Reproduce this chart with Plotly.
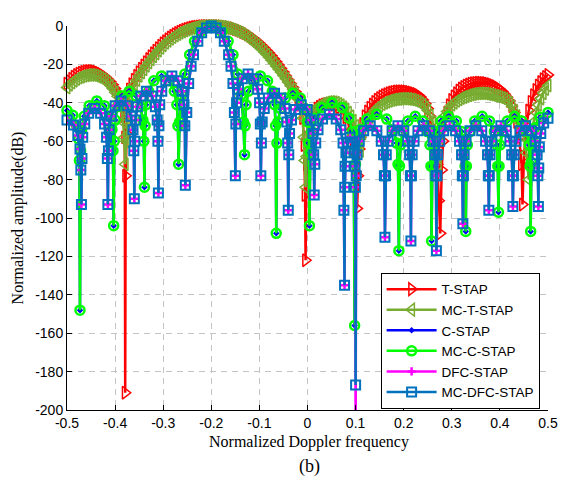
import plotly.graph_objects as go

# ---------------- data ----------------
x_ticks = [-0.5, -0.4, -0.3, -0.2, -0.1, 0, 0.1, 0.2, 0.3, 0.4, 0.5]
x_tick_labels = ["-0.5", "-0.4", "-0.3", "-0.2", "-0.1", "0", "0.1", "0.2", "0.3", "0.4", "0.5"]
y_ticks = [0, -20, -40, -60, -80, -100, -120, -140, -160, -180, -200]
y_tick_labels = ["0", "-20", "-40", "-60", "-80", "-100", "-120", "-140", "-160", "-180", "-200"]

series_names = ["T-STAP", "MC-T-STAP", "C-STAP", "MC-C-STAP", "DFC-STAP", "MC-DFC-STAP"]

t_stap = [
    (-0.5, -30), (-0.495, -28.7), (-0.49, -27.5), (-0.485, -26.4), (-0.48, -25.5), (-0.475, -24.8),
    (-0.47, -24.3), (-0.465, -23.9), (-0.46, -23.6), (-0.455, -23.4), (-0.45, -23.4), (-0.445, -23.5),
    (-0.44, -23.8), (-0.435, -24.3), (-0.43, -25), (-0.425, -25.7), (-0.42, -26.6), (-0.415, -27.7),
    (-0.41, -29), (-0.405, -30.6), (-0.40, -32.5), (-0.395, -34.6), (-0.39, -37), (-0.385, -41),
    (-0.382, -47), (-0.38, -58), (-0.379, -191), (-0.378, -78), (-0.376, -56), (-0.373, -40),
    (-0.37, -33), (-0.365, -30.3), (-0.36, -28), (-0.355, -25.9), (-0.35, -24), (-0.345, -22.2),
    (-0.34, -20.5), (-0.335, -18.8), (-0.33, -17.2), (-0.325, -15.7), (-0.32, -14.2), (-0.315, -12.8),
    (-0.31, -11.5), (-0.305, -10.2), (-0.30, -9), (-0.295, -7.9), (-0.29, -6.9), (-0.285, -6),
    (-0.28, -5.1), (-0.275, -4.3), (-0.27, -3.6), (-0.265, -3), (-0.26, -2.4), (-0.255, -1.9),
    (-0.25, -1.5), (-0.245, -1.1), (-0.24, -0.8), (-0.235, -0.55), (-0.23, -0.35), (-0.225, -0.2),
    (-0.22, -0.1), (-0.215, -0.03), (-0.21, 0), (-0.205, 0), (-0.20, 0), (-0.195, 0),
    (-0.19, 0), (-0.185, -0.05), (-0.18, -0.15), (-0.175, -0.3), (-0.17, -0.45), (-0.165, -0.65),
    (-0.16, -0.9), (-0.155, -1.2), (-0.15, -1.6), (-0.145, -2), (-0.14, -2.5), (-0.135, -3.1),
    (-0.13, -3.7), (-0.125, -4.4), (-0.12, -5.2), (-0.115, -6.1), (-0.11, -7), (-0.105, -8),
    (-0.10, -9), (-0.095, -10.2), (-0.09, -11.4), (-0.085, -12.7), (-0.08, -14), (-0.075, -15.5),
    (-0.07, -17), (-0.065, -18.6), (-0.06, -20.3), (-0.055, -22.1), (-0.05, -24), (-0.045, -26),
    (-0.04, -28), (-0.035, -30), (-0.03, -32), (-0.025, -34.3), (-0.02, -37), (-0.015, -41),
    (-0.01, -48), (-0.007, -62), (-0.005, -88), (-0.004, -122), (-0.002, -72), (0.0, -58),
    (0.005, -51), (0.01, -46.5), (0.015, -44.5), (0.02, -43), (0.025, -42), (0.03, -41.3),
    (0.035, -40.9), (0.04, -40.6), (0.045, -40.5), (0.05, -40.6), (0.055, -41), (0.06, -41.5),
    (0.065, -42.4), (0.07, -43.5), (0.075, -45.3), (0.08, -47.5), (0.085, -51), (0.09, -56),
    (0.095, -64), (0.10, -76), (0.103, -95), (0.105, -78), (0.108, -64), (0.11, -58),
    (0.115, -51), (0.12, -47), (0.125, -44.5), (0.13, -42.5), (0.135, -40.9), (0.14, -39.5),
    (0.145, -38.4), (0.15, -37.5), (0.155, -36.7), (0.16, -36), (0.165, -35.5), (0.17, -35),
    (0.175, -34.6), (0.18, -34.3), (0.185, -34.1), (0.19, -34), (0.195, -34), (0.20, -34),
    (0.205, -34.1), (0.21, -34.3), (0.215, -34.6), (0.22, -35), (0.225, -35.4), (0.23, -36),
    (0.235, -37), (0.24, -38.5), (0.245, -40.5), (0.25, -43), (0.255, -47), (0.26, -53),
    (0.265, -61), (0.27, -72), (0.273, -91), (0.276, -108), (0.279, -75), (0.282, -60),
    (0.285, -53), (0.29, -45), (0.295, -41.3), (0.30, -38.5), (0.305, -36.6), (0.31, -35),
    (0.315, -33.6), (0.32, -32.5), (0.325, -31.7), (0.33, -31), (0.335, -30.5), (0.34, -30),
    (0.345, -29.8), (0.35, -29.6), (0.355, -29.5), (0.36, -29.5), (0.365, -29.6), (0.37, -29.7),
    (0.375, -30), (0.38, -30.3), (0.385, -30.8), (0.39, -31.3), (0.395, -32.1), (0.40, -33),
    (0.405, -34.1), (0.41, -35.5), (0.415, -37.1), (0.42, -39), (0.425, -41.7), (0.43, -45),
    (0.435, -50), (0.44, -58), (0.445, -72), (0.447, -93), (0.45, -68), (0.455, -52),
    (0.46, -44), (0.465, -39.5), (0.47, -36), (0.475, -33.3), (0.48, -31), (0.485, -29.2),
    (0.49, -27.7), (0.495, -26.5), (0.5, -25.5),
]

mc_t_stap = [
    (-0.5, -32), (-0.495, -30.6), (-0.49, -29.5), (-0.485, -28.5), (-0.48, -27.6), (-0.475, -26.9),
    (-0.47, -26.4), (-0.465, -26), (-0.46, -25.7), (-0.455, -25.5), (-0.45, -25.5), (-0.445, -25.6),
    (-0.44, -25.9), (-0.435, -26.4), (-0.43, -27), (-0.425, -27.7), (-0.42, -28.6), (-0.415, -29.7),
    (-0.41, -31), (-0.405, -32.6), (-0.40, -34.5), (-0.395, -36.6), (-0.39, -39), (-0.386, -43),
    (-0.383, -50), (-0.381, -58), (-0.379, -72), (-0.377, -60), (-0.375, -50), (-0.373, -43),
    (-0.37, -36), (-0.365, -33.1), (-0.36, -30.5), (-0.355, -28.2), (-0.35, -26), (-0.345, -24.2),
    (-0.34, -22.5), (-0.335, -20.7), (-0.33, -19), (-0.325, -17.4), (-0.32, -15.8), (-0.315, -14.3),
    (-0.31, -12.8), (-0.305, -11.4), (-0.30, -10), (-0.295, -8.8), (-0.29, -7.7), (-0.285, -6.7),
    (-0.28, -5.8), (-0.275, -5), (-0.27, -4.2), (-0.265, -3.5), (-0.26, -2.9), (-0.255, -2.4),
    (-0.25, -1.9), (-0.245, -1.5), (-0.24, -1.1), (-0.235, -0.8), (-0.23, -0.5), (-0.225, -0.3),
    (-0.22, -0.15), (-0.215, -0.05), (-0.21, 0), (-0.205, 0), (-0.20, 0), (-0.195, -0.03),
    (-0.19, -0.1), (-0.185, -0.2), (-0.18, -0.35), (-0.175, -0.55), (-0.17, -0.8), (-0.165, -1.1),
    (-0.16, -1.5), (-0.155, -1.9), (-0.15, -2.4), (-0.145, -2.9), (-0.14, -3.5), (-0.135, -4.2),
    (-0.13, -5), (-0.125, -5.9), (-0.12, -6.8), (-0.115, -7.8), (-0.11, -8.8), (-0.105, -9.9),
    (-0.10, -11), (-0.095, -12.2), (-0.09, -13.5), (-0.085, -14.9), (-0.08, -16.3), (-0.075, -17.8),
    (-0.07, -19.3), (-0.065, -20.9), (-0.06, -22.5), (-0.055, -24.1), (-0.05, -25.8), (-0.045, -27.5),
    (-0.04, -29.3), (-0.035, -31.1), (-0.03, -33), (-0.025, -35.3), (-0.02, -38), (-0.015, -42),
    (-0.01, -48), (-0.008, -58), (-0.006, -70), (-0.004, -84), (-0.002, -68), (0.0, -58),
    (0.005, -50), (0.01, -46), (0.015, -44), (0.02, -42.5), (0.025, -41.5), (0.03, -40.7),
    (0.035, -40.2), (0.04, -39.8), (0.045, -39.6), (0.05, -39.5), (0.055, -39.7), (0.06, -40),
    (0.065, -40.6), (0.07, -41.3), (0.075, -42.3), (0.08, -43.5), (0.085, -45.1), (0.09, -47),
    (0.095, -49.3), (0.10, -52), (0.105, -58), (0.11, -65), (0.115, -56), (0.12, -51),
    (0.125, -49.1), (0.13, -47.5), (0.135, -45.7), (0.14, -44), (0.145, -42.7), (0.15, -41.5),
    (0.155, -40.7), (0.16, -40), (0.165, -39.5), (0.17, -39), (0.175, -38.6), (0.18, -38.3),
    (0.185, -38.1), (0.19, -38), (0.195, -37.9), (0.20, -37.8), (0.205, -37.9), (0.21, -38),
    (0.215, -38.2), (0.22, -38.5), (0.225, -39), (0.23, -39.5), (0.235, -40.2), (0.24, -41),
    (0.245, -42.3), (0.25, -44), (0.255, -46.6), (0.26, -50), (0.265, -58), (0.27, -68),
    (0.272, -72), (0.275, -58), (0.28, -50), (0.285, -46.9), (0.29, -44.5), (0.295, -42.6),
    (0.30, -41), (0.305, -40), (0.31, -39), (0.315, -38.2), (0.32, -37.5), (0.325, -37),
    (0.33, -36.5), (0.335, -36.1), (0.34, -35.7), (0.345, -35.4), (0.35, -35.2), (0.355, -35.1),
    (0.36, -35), (0.365, -35.1), (0.37, -35.2), (0.375, -35.4), (0.38, -35.7), (0.385, -36),
    (0.39, -36.3), (0.395, -36.6), (0.40, -37), (0.405, -37.5), (0.41, -38), (0.415, -38.9),
    (0.42, -40), (0.425, -41.8), (0.43, -44), (0.435, -46.8), (0.44, -50), (0.445, -53.7),
    (0.45, -58), (0.455, -66), (0.46, -80), (0.465, -64), (0.47, -50), (0.475, -45),
    (0.48, -41), (0.485, -37.8), (0.49, -35), (0.495, -32.8), (0.5, -31),
]

mc_c_stap = [
    (-0.5, -44), (-0.488, -46.5), (-0.48, -52), (-0.4757, -59), (-0.4741, -70), (-0.473, -148),
    (-0.4716, -65), (-0.4695, -54), (-0.4643, -47), (-0.4538, -41.5), (-0.438, -39), (-0.4222, -41.5),
    (-0.4117, -47), (-0.4065, -54), (-0.4044, -65), (-0.403, -104),
    (-0.4017, -60), (-0.3998, -49), (-0.395, -42), (-0.3854, -36.5), (-0.371, -34), (-0.3566, -36.5),
    (-0.347, -42), (-0.3422, -49), (-0.3403, -60), (-0.339, -84),
    (-0.3376, -52), (-0.3355, -41), (-0.3301, -34), (-0.3195, -28.5), (-0.3035, -26), (-0.2875, -28.5),
    (-0.2769, -34), (-0.2715, -41), (-0.2694, -52), (-0.268, -72),
    (-0.266, -50), (-0.262, -36), (-0.255, -25), (-0.245, -15), (-0.235, -8), (-0.222, -3),
    (-0.21, -0.8), (-0.2, 0), (-0.19, -0.8), (-0.178, -3), (-0.165, -8), (-0.155, -15),
    (-0.145, -25), (-0.138, -36), (-0.133, -50), (-0.131, -67),
    (-0.1297, -52), (-0.1277, -41), (-0.1228, -34), (-0.1129, -28.5), (-0.098, -26), (-0.0831, -28.5),
    (-0.0732, -34), (-0.0683, -41), (-0.0663, -52), (-0.065, -108),
    (-0.0636, -61), (-0.0615, -50), (-0.0564, -43), (-0.046, -37.5), (-0.0305, -35), (-0.015, -37.5),
    (-0.0046, -43), (0.0005, -50), (0.0026, -61), (0.004, -104),
    (0.0059, -66), (0.0087, -55), (0.0157, -48), (0.0298, -42.5), (0.051, -40), (0.0722, -42.5),
    (0.0863, -48), (0.0933, -55), (0.0961, -66), (0.098, -156),
    (0.0998, -72), (0.1026, -61), (0.1095, -54), (0.1233, -48.5), (0.144, -46), (0.1647, -48.5),
    (0.1785, -54), (0.1854, -61), (0.1882, -72), (0.19, -117),
    (0.1914, -73), (0.1934, -62), (0.1985, -55), (0.2087, -49.5), (0.224, -47), (0.2393, -49.5),
    (0.2495, -55), (0.2546, -62), (0.2566, -73), (0.258, -112),
    (0.2594, -73), (0.2615, -62), (0.2669, -55), (0.2775, -49.5), (0.2935, -47), (0.3095, -49.5),
    (0.3201, -55), (0.3255, -62), (0.3276, -73), (0.329, -107),
    (0.3304, -73), (0.3324, -62), (0.3375, -55), (0.3477, -49.5), (0.363, -47), (0.3783, -49.5),
    (0.3885, -55), (0.3936, -62), (0.3956, -73), (0.397, -97),
    (0.3983, -73), (0.4003, -62), (0.4054, -55), (0.4154, -49.5), (0.4305, -47), (0.4456, -49.5),
    (0.4556, -55), (0.4607, -62), (0.4627, -73), (0.464, -107),
    (0.4654, -71), (0.4676, -60), (0.473, -53), (0.4838, -47.5), (0.5, -45),
]
c_stap = list(mc_c_stap)

mc_dfc_stap = [
    (-0.5, -49), (-0.4865, -51.5), (-0.4775, -57), (-0.473, -64), (-0.4712, -75), (-0.47, -93),
    (-0.4689, -69), (-0.4673, -58), (-0.4631, -51), (-0.4549, -45.5), (-0.4425, -43), (-0.4301, -45.5),
    (-0.4219, -51), (-0.4177, -58), (-0.4161, -69), (-0.415, -93),
    (-0.4139, -65), (-0.4123, -54), (-0.4081, -47), (-0.3999, -41.5), (-0.3875, -39), (-0.3751, -41.5),
    (-0.3669, -47), (-0.3627, -54), (-0.3611, -65), (-0.36, -90),
    (-0.359, -60), (-0.3575, -49), (-0.3538, -42), (-0.3463, -36.5), (-0.335, -34), (-0.3237, -36.5),
    (-0.3162, -42), (-0.3125, -49), (-0.311, -60), (-0.31, -87),
    (-0.3089, -52), (-0.3072, -41), (-0.303, -34), (-0.2946, -28.5), (-0.282, -26), (-0.2694, -28.5),
    (-0.261, -34), (-0.2568, -41), (-0.2551, -52), (-0.254, -83),
    (-0.251, -45), (-0.247, -30), (-0.242, -21), (-0.237, -15), (-0.228, -8), (-0.22, -3.5),
    (-0.21, -1), (-0.2, 0), (-0.19, -1), (-0.181, -3.5), (-0.173, -8), (-0.164, -15),
    (-0.159, -21), (-0.155, -30), (-0.152, -45), (-0.15, -78),
    (-0.1489, -51), (-0.1474, -40), (-0.1434, -33), (-0.1354, -27.5), (-0.1235, -25), (-0.1116, -27.5),
    (-0.1036, -33), (-0.0996, -40), (-0.0981, -51), (-0.097, -78),
    (-0.0959, -61), (-0.0942, -50), (-0.0899, -43), (-0.0813, -37.5), (-0.0685, -35), (-0.0557, -37.5),
    (-0.0471, -43), (-0.0428, -50), (-0.0411, -61), (-0.04, -96),
    (-0.0389, -67), (-0.0373, -56), (-0.0333, -49), (-0.0252, -43.5), (-0.013, -41), (-0.0008, -43.5),
    (0.0073, -49), (0.0113, -56), (0.0129, -67), (0.014, -88),
    (0.0152, -72), (0.0171, -61), (0.0219, -54), (0.0313, -48.5), (0.0455, -46), (0.0597, -48.5),
    (0.0691, -54), (0.0739, -61), (0.0757, -96), (0.077, -135),
    (0.0775, -84), (0.0781, -73), (0.0799, -66), (0.0833, -60.5), (0.0885, -58), (0.0937, -60.5),
    (0.0971, -66), (0.0989, -73), (0.0995, -84), (0.1, -187),
    (0.1012, -78), (0.103, -67), (0.1076, -60), (0.1168, -54.5), (0.1305, -52), (0.1442, -54.5),
    (0.1534, -60), (0.158, -67), (0.1598, -78), (0.161, -110),
    (0.1621, -78), (0.1637, -67), (0.1677, -60), (0.1758, -54.5), (0.188, -52), (0.2002, -54.5),
    (0.2083, -60), (0.2123, -67), (0.2139, -78), (0.215, -112),
    (0.2161, -78), (0.2176, -67), (0.2216, -60), (0.2296, -54.5), (0.2415, -52), (0.2534, -54.5),
    (0.2614, -60), (0.2654, -67), (0.2669, -78), (0.268, -117),
    (0.2691, -78), (0.2707, -67), (0.2749, -60), (0.2831, -54.5), (0.2955, -52), (0.3079, -54.5),
    (0.3161, -60), (0.3203, -67), (0.3219, -78), (0.323, -103),
    (0.3241, -78), (0.3257, -67), (0.3297, -60), (0.3378, -54.5), (0.35, -52), (0.3622, -54.5),
    (0.3703, -60), (0.3743, -67), (0.3759, -78), (0.377, -96),
    (0.378, -78), (0.3795, -67), (0.3833, -60), (0.3908, -54.5), (0.402, -52), (0.4133, -54.5),
    (0.4208, -60), (0.4245, -67), (0.426, -78), (0.427, -94),
    (0.4281, -78), (0.4296, -67), (0.4336, -60), (0.4416, -54.5), (0.4535, -52), (0.4654, -54.5),
    (0.4734, -60), (0.4774, -67), (0.4789, -78), (0.48, -94),
    (0.4808, -74), (0.482, -63), (0.485, -56), (0.491, -50.5), (0.5, -48),
]
# DFC-STAP follows MC-DFC-STAP, but its notch at 0.1 runs off the bottom of the axis
dfc_notch = {0.1: -230}
dfc_stap = [(x, dfc_notch.get(x, y)) for x, y in mc_dfc_stap]

# ---------------- styling ----------------
styles = {
    "T-STAP": dict(color="#FF0000", symbol="triangle-right-open", size=11, mlw=1.5, lw=2.5, clip=False),
    "MC-T-STAP": dict(color="#77AC30", symbol="triangle-left-open", size=11, mlw=1.5, lw=2.5, clip=False),
    "C-STAP": dict(color="#0000FF", symbol="diamond", size=5, mlw=0, lw=2.5, clip=False),
    "MC-C-STAP": dict(color="#00FF00", symbol="circle-open", size=9, mlw=2.5, lw=2.5, clip=False),
    "DFC-STAP": dict(color="#FF00FF", symbol="cross-thin-open", size=6, mlw=2.5, lw=2.5, clip=True),
    "MC-DFC-STAP": dict(color="#0072BD", symbol="square-open", size=9, mlw=2, lw=2.5, clip=False),
}
series_data = {
    "T-STAP": t_stap, "MC-T-STAP": mc_t_stap, "C-STAP": c_stap,
    "MC-C-STAP": mc_c_stap, "DFC-STAP": dfc_stap, "MC-DFC-STAP": mc_dfc_stap,
}

fig = go.Figure()
for name in series_names:
    st = styles[name]
    xs, ys = zip(*series_data[name])
    fig.add_trace(go.Scatter(
        x=list(xs), y=list(ys), name=name, mode="lines+markers",
        line=dict(color=st["color"], width=st["lw"]),
        marker=dict(symbol=st["symbol"], size=st["size"], color=st["color"],
                    line=dict(color=st["color"], width=st["mlw"])),
        cliponaxis=st["clip"],
    ))

axis_common = dict(
    showgrid=True, gridcolor="#c4c4c4", griddash="6px,5px", gridwidth=1,
    zeroline=False, showline=True, linecolor="black", linewidth=1,
    ticks="inside", ticklen=5, tickcolor="black",
    tickfont=dict(family="Liberation Sans, Arial, sans-serif", size=14, color="black"),
)

# the page body keeps its 8px margin: the figure is 560x471 so the page is exactly 576x487;
# the plot area lands at x 67..558, y 18..410 of the window
fig.update_layout(
    width=560, height=471,
    margin=dict(l=59, r=10, t=10, b=69),
    paper_bgcolor="white", plot_bgcolor="white",
    showlegend=True,
    legend=dict(
        x=0.652, y=0.357, xanchor="left", yanchor="top",
        bgcolor="white", bordercolor="black", borderwidth=1,
        font=dict(family="Liberation Sans, Arial, sans-serif", size=13.5, color="black"),
        itemwidth=50, tracegroupgap=0,
    ),
    xaxis=dict(range=[-0.5, 0.5], tickvals=x_ticks, ticktext=x_tick_labels, **axis_common),
    yaxis=dict(range=[-200, 0], tickvals=y_ticks, ticktext=y_tick_labels, **axis_common),
    annotations=[
        dict(text="Normalized Doppler frequency", xref="paper", yref="paper", x=0.503, y=-0.084,
             xanchor="center", yanchor="middle", showarrow=False,
             font=dict(family="Liberation Serif, Times New Roman, serif", size=16, color="black")),
        dict(text="Normalized amplitude(dB)", xref="paper", yref="paper", x=-0.101, y=0.5,
             xanchor="center", yanchor="middle", showarrow=False, textangle=-90,
             font=dict(family="Liberation Serif, Times New Roman, serif", size=16, color="black")),
        dict(text="(b)", xref="paper", yref="paper", x=0.505, y=-0.148,
             xanchor="center", yanchor="middle", showarrow=False,
             font=dict(family="Liberation Serif, Times New Roman, serif", size=18, color="black")),
    ],
)

fig.write_html("out.html", config={"displayModeBar": False})
